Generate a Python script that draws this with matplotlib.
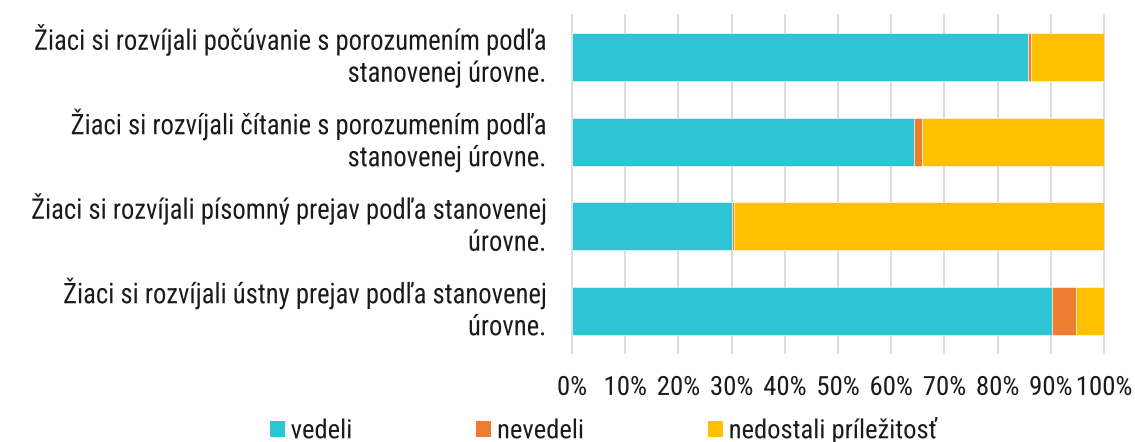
import matplotlib
matplotlib.use("Agg")
import matplotlib.pyplot as plt
import numpy as np
from matplotlib import font_manager, patheffects
from matplotlib.font_manager import FontProperties
from matplotlib.patches import Patch
from matplotlib.textpath import TextPath
from matplotlib.transforms import Affine2D

# Survey answers per skill (share of pupils, %)
categories = [
    "Žiaci si rozvíjali počúvanie s porozumením podľa\nstanovenej úrovne.",
    "Žiaci si rozvíjali čítanie s porozumením podľa\nstanovenej úrovne.",
    "Žiaci si rozvíjali písomný prejav podľa stanovenej\núrovne.",
    "Žiaci si rozvíjali ústny prejav podľa stanovenej\núrovne.",
]
vedeli = [85.8, 64.3, 30.1, 90.2]
nevedeli = [0.4, 1.4, 0.4, 4.5]
nedostali = [13.8, 34.3, 69.5, 5.3]
series_names = ["vedeli", "nevedeli", "nedostali príležitosť"]
x_ticks = list(range(0, 101, 10))
x_tick_labels = [f"{t}%" for t in x_ticks]

colors = ["#2DC5D3", "#ED7D31", "#FFC000"]
grid_color = "#D9D9D9"
text_color = "#1A1A1A"
DPI = 100
TICK_SIZE, LEGEND_SIZE = 19, 19
# category labels: laid out at 16.5 pt, glyphs drawn as tall as 20.5 pt
LABEL_SIZE, LABEL_LOOK = 16.5, 20.5

# Prefer the condensed cut; otherwise squeeze regular Roboto horizontally
installed = {f.name for f in font_manager.fontManager.ttflist}
family = "Roboto Condensed" if "Roboto Condensed" in installed else "Roboto"
plt.rcParams["font.family"] = [family, "DejaVu Sans"]


def squeeze_for(text, size, width_px):
    """Horizontal factor that brings a text line to the wanted ink width."""
    path = TextPath((0, 0), text, size=size, prop=FontProperties(family=family))
    natural = path.get_extents().width * DPI / 72
    return width_px / natural


sq_labels = squeeze_for(categories[0].split("\n")[0], LABEL_SIZE, 510)
sq_ticks = squeeze_for("30%", TICK_SIZE, 41)
sq_legend = squeeze_for(series_names[2], LEGEND_SIZE, 207)


class Narrow(patheffects.AbstractPathEffect):
    """Redraw text glyphs scaled, keeping the given edge and the baseline in place."""

    def __init__(self, factor, anchor="left", stretch_y=1.0):
        super().__init__()
        self.factor = factor
        self.anchor = anchor
        self.stretch_y = stretch_y

    def draw_path(self, renderer, gc, tpath, affine, rgbFace=None):
        ext = tpath.get_extents()
        if self.anchor == "right":
            x0 = ext.x1
        elif self.anchor == "center":
            x0 = (ext.x0 + ext.x1) / 2
        else:
            x0 = 0
        scale = (Affine2D().translate(-x0, 0)
                 .scale(self.factor, self.stretch_y).translate(x0, 0))
        renderer.draw_path(gc, tpath, scale + affine, rgbFace)


fig = plt.figure(figsize=(11.35, 4.42), dpi=DPI)
ax = fig.add_axes([572 / 1135, 1 - 353 / 442, 532 / 1135, 338 / 442])

y = np.arange(len(categories))
left = np.zeros(len(categories))
for values, color, name in zip([vedeli, nevedeli, nedostali], colors, series_names):
    ax.barh(y, values, left=left, height=0.57, color=color, edgecolor="white",
            linewidth=0.4, label=name, zorder=2)
    left += np.array(values)

ax.set_xlim(0, 100)
ax.set_ylim(len(categories) - 0.5, -0.5)
ax.set_xticks(x_ticks)
ax.set_xticklabels(x_tick_labels)
ax.set_yticks(y)
ax.set_yticklabels(categories, ha="right", va="center", multialignment="right",
                   linespacing=1.5)

ax.grid(axis="x", color=grid_color, linewidth=1.3, zorder=0)
ax.set_axisbelow(True)
for tick in ax.xaxis.get_major_ticks():
    tick.gridline.set_clip_on(False)
for side in ["top", "right", "bottom", "left"]:
    ax.spines[side].set_visible(False)

ax.tick_params(axis="x", length=0, pad=16.5, labelsize=TICK_SIZE, labelcolor=text_color)
ax.tick_params(axis="y", length=0, pad=18.7, labelsize=LABEL_SIZE, labelcolor=text_color)
for lbl in ax.get_xticklabels():
    lbl.set_path_effects([Narrow(sq_ticks, "center")])
for lbl in ax.get_yticklabels():
    lbl.set_path_effects([Narrow(sq_labels, "right", LABEL_LOOK / LABEL_SIZE)])

handles = [Patch(facecolor=c, edgecolor="none") for c in colors]
leg = fig.legend(handles, series_names, loc="center", ncol=3, frameon=False,
                 bbox_to_anchor=(602.5 / 1135, 1 - 430 / 442), fontsize=LEGEND_SIZE,
                 handlelength=0.57, handleheight=0.57, handletextpad=0.23,
                 columnspacing=4.7, borderpad=0, labelcolor=text_color)
for txt in leg.get_texts():
    txt.set_path_effects([Narrow(sq_legend, "left")])

fig.savefig("out.png", dpi=DPI)
